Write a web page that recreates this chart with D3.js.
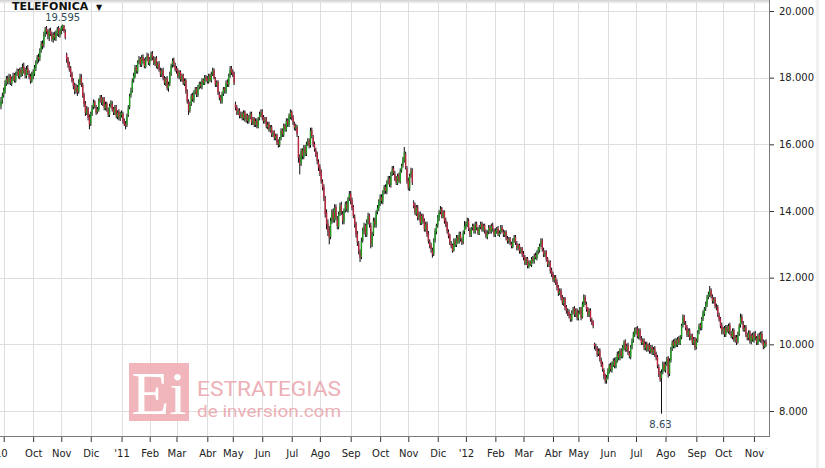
<!DOCTYPE html>
<html><head><meta charset="utf-8">
<script src="https://cdn.jsdelivr.net/npm/d3@7"></script>
<style>
body{margin:0;background:#fff;}
svg{display:block;font-family:"DejaVu Sans",Verdana,sans-serif;}
</style>
</head><body>
<svg id="chart" width="825" height="468"></svg>
<script>
const title = "TELEFONICA";
const monthNames = ["Ene","Feb","Mar","Abr","May","Jun","Jul","Ago","Sep","Oct","Nov","Dic"];
const priceTicks = [8, 10, 12, 14, 16, 18, 20];
const startDate = "2010-08-30", endDate = "2012-11-14";
const holidays = ["2011-04-22","2011-04-25","2011-12-26","2012-04-06","2012-04-09","2012-05-01"];
const maxLabel = "19.595", minLabel = "8.63";

const closes = [
17.30,17.45,
17.62,17.80,17.95,17.88,18.02,17.85,17.96,18.05,17.92,18.10,18.18,18.05,18.22,18.12,18.30,18.20,18.08,18.25,18.15,18.02,17.90,18.10,
18.15,18.30,18.45,18.60,18.55,18.80,19.00,18.95,19.30,19.45,19.38,19.25,19.40,19.30,19.15,19.28,19.20,19.35,19.45,19.30,19.40,
19.50,19.58,19.40,19.20,18.55,18.40,18.25,18.10,17.90,17.75,17.60,17.70,17.55,17.85,18.00,17.80,17.45,17.20,16.95,17.05,16.80,16.60,
16.90,17.10,17.25,17.15,16.95,17.05,17.30,17.40,17.25,17.35,17.10,17.20,17.05,16.90,17.15,17.25,17.05,16.95,17.10,16.85,16.95,16.80,16.90,
16.95,16.70,16.60,16.55,16.85,17.10,17.45,17.60,17.90,18.05,18.30,18.20,18.45,18.55,18.40,18.60,18.50,18.35,18.55,18.65,18.45,
18.55,18.70,18.60,18.45,18.55,18.35,18.40,18.25,18.10,18.20,18.00,17.85,17.95,17.70,17.80,18.10,18.35,18.50,18.40,18.25,
18.20,18.05,18.15,17.95,18.05,17.85,17.90,17.60,17.30,17.00,17.20,17.45,17.35,17.55,17.65,17.50,17.70,17.80,17.75,17.90,17.85,18.00,17.95,
17.90,18.05,17.95,18.10,18.20,18.00,17.80,17.85,17.55,17.40,17.30,17.50,17.65,17.60,17.85,17.80,18.05,18.25,18.15,
18.10,17.85,17.10,16.95,17.00,16.85,16.90,16.80,16.95,16.75,16.85,16.70,16.80,16.90,16.65,16.75,16.60,16.70,16.55,16.75,16.90,16.95,
16.80,16.70,16.75,16.55,16.60,16.45,16.50,16.30,16.35,16.20,16.25,16.05,16.00,16.15,16.40,16.30,16.55,16.45,16.70,16.60,16.85,16.95,
16.80,16.65,16.50,16.55,16.30,15.60,15.40,15.80,15.65,15.90,15.75,16.00,16.10,15.95,16.40,16.25,16.00,15.85,15.70,15.50,15.30,
15.15,14.90,14.70,14.40,13.90,13.60,13.40,13.20,13.70,13.95,13.75,14.10,13.80,13.55,13.90,14.15,13.95,13.70,14.00,14.20,14.05,14.35,14.50,
14.30,14.10,13.85,13.60,13.30,13.05,12.80,12.60,13.10,13.40,13.55,13.30,13.65,13.85,13.60,13.00,13.30,13.70,13.60,13.95,14.10,14.25,
14.40,14.30,14.55,14.70,14.60,14.85,14.95,14.80,15.10,15.25,15.15,14.95,14.85,15.05,14.90,15.20,15.35,15.55,15.75,15.30,14.90,
14.70,15.05,15.20,14.85,14.15,13.95,14.10,13.80,13.90,13.65,13.85,13.70,13.45,13.60,13.30,13.10,12.95,12.85,12.70,13.10,13.40,13.55,
13.80,13.95,14.05,13.85,13.95,13.70,13.60,13.40,13.25,13.05,12.95,12.80,13.10,13.00,13.20,13.10,13.30,13.15,13.05,13.35,13.55,
13.60,13.70,13.45,13.30,13.45,13.55,13.40,13.60,13.50,13.35,13.50,13.60,13.45,13.55,13.40,13.25,13.35,13.50,13.40,13.55,13.45,13.30,
13.40,13.45,13.30,13.35,13.50,13.40,13.30,13.35,13.20,13.10,13.15,13.05,12.95,13.10,13.20,13.05,12.90,12.95,12.80,12.85,12.70,
12.60,12.45,12.55,12.35,12.45,12.40,12.55,12.50,12.65,12.60,12.75,12.85,12.95,13.10,12.85,12.70,12.75,12.55,12.40,12.45,12.20,12.10,
11.95,12.00,11.85,11.70,11.55,11.60,11.40,11.25,11.35,11.10,11.00,10.95,10.85,10.75,10.95,11.05,10.90,11.00,10.80,
10.95,11.05,10.80,11.20,11.40,11.25,11.05,10.90,11.00,10.75,10.65,10.55,9.95,9.90,9.70,9.80,9.55,9.40,9.25,9.05,8.90,9.00,
9.20,9.35,9.25,9.40,9.50,9.35,9.55,9.70,9.60,9.80,9.65,9.90,10.05,9.85,9.95,9.75,9.65,9.90,10.10,10.30,10.40,
10.45,10.25,10.40,10.20,10.05,10.10,9.90,10.00,9.85,9.95,9.80,9.90,9.75,9.85,9.70,9.60,9.35,9.10,8.95,9.15,9.40,9.25,
9.40,9.55,9.10,9.50,9.85,10.05,9.95,10.10,10.00,10.15,10.05,10.20,10.55,10.80,10.65,10.50,10.30,10.40,10.20,10.25,10.05,10.15,9.90,
10.10,10.35,10.55,10.50,10.75,10.95,11.05,11.20,11.40,11.50,11.60,11.45,11.30,11.35,11.15,11.10,10.90,10.75,10.55,10.40,
10.45,10.30,10.50,10.40,10.55,10.35,10.25,10.40,10.15,10.20,10.05,10.30,10.55,10.80,10.65,10.45,10.50,10.30,10.20,10.35,10.10,10.25,10.15,
10.30,10.20,10.05,10.25,10.15,10.30,10.10,9.95,10.05,10.00
];

const opens = [
17.15,17.32,
17.48,17.60,17.82,17.98,17.86,18.05,17.82,17.98,18.08,17.90,18.12,18.20,18.02,18.25,18.10,18.34,18.22,18.05,18.28,18.12,18.05,17.88,
18.05,18.12,18.28,18.48,18.62,18.58,18.82,19.02,18.98,19.32,19.48,19.40,19.22,19.42,19.32,19.12,19.30,19.18,19.33,19.48,19.28,
19.42,19.48,19.56,19.38,18.70,18.58,18.42,18.28,18.12,17.92,17.78,17.58,17.72,17.58,17.82,18.02,17.78,17.48,17.22,16.92,17.08,16.82,
16.62,16.92,17.12,17.28,17.12,16.98,17.02,17.32,17.42,17.22,17.38,17.08,17.22,17.02,16.88,17.18,17.22,17.08,16.92,17.12,16.82,16.98,16.78,
16.88,16.92,16.72,16.62,16.58,16.88,17.12,17.48,17.62,17.92,18.02,18.32,18.18,18.48,18.58,18.38,18.62,18.52,18.32,18.58,18.68,
18.42,18.58,18.72,18.58,18.42,18.58,18.32,18.42,18.22,18.08,18.22,17.98,17.82,17.98,17.68,17.82,18.12,18.38,18.52,18.38,
18.28,18.22,18.02,18.18,17.92,18.08,17.82,17.92,17.58,17.28,17.02,17.22,17.48,17.32,17.58,17.68,17.48,17.72,17.82,17.72,17.92,17.82,18.02,
17.98,17.88,18.08,17.92,18.12,18.22,17.98,17.78,17.88,17.52,17.42,17.28,17.52,17.68,17.58,17.88,17.78,18.08,18.28,
18.18,18.12,17.20,17.12,16.92,17.02,16.82,16.92,16.78,16.98,16.72,16.88,16.68,16.82,16.92,16.62,16.78,16.58,16.72,16.52,16.78,16.88,
16.98,16.82,16.68,16.78,16.52,16.62,16.42,16.52,16.28,16.38,16.18,16.28,16.08,15.98,16.18,16.42,16.28,16.58,16.42,16.72,16.58,16.82,
16.98,16.82,16.62,16.48,16.52,16.20,15.58,15.42,15.82,15.62,15.92,15.72,16.02,16.12,15.98,16.42,16.22,16.02,15.82,15.72,15.48,
15.32,15.18,14.88,14.72,14.38,13.95,13.62,13.42,13.22,13.72,13.98,13.72,14.12,13.78,13.52,13.92,14.18,13.92,13.68,14.02,14.22,14.02,14.38,
14.52,14.32,14.12,13.82,13.62,13.32,13.02,12.78,12.62,13.12,13.38,13.58,13.28,13.68,13.88,13.58,12.98,13.32,13.72,13.58,13.98,14.08,
14.22,14.42,14.28,14.58,14.72,14.58,14.88,14.98,14.78,15.12,15.28,15.12,14.98,14.82,15.08,14.88,15.22,15.38,15.52,15.72,15.28,
14.92,14.68,15.08,15.22,14.25,14.18,13.92,14.12,13.78,13.92,13.62,13.88,13.72,13.42,13.62,13.32,13.08,12.98,12.82,12.72,13.12,13.38,
13.58,13.78,13.98,14.08,13.82,13.98,13.72,13.62,13.38,13.28,13.02,12.98,12.82,13.12,12.98,13.22,13.08,13.32,13.12,13.08,13.38,
13.52,13.58,13.72,13.42,13.28,13.48,13.58,13.38,13.62,13.48,13.32,13.52,13.62,13.42,13.58,13.38,13.22,13.38,13.52,13.38,13.58,13.42,
13.28,13.38,13.48,13.28,13.38,13.52,13.38,13.28,13.38,13.18,13.08,13.18,13.02,12.92,13.12,13.22,13.02,12.88,12.98,12.78,12.88,
12.72,12.62,12.42,12.58,12.32,12.48,12.38,12.58,12.48,12.68,12.58,12.78,12.82,12.98,13.12,12.82,12.68,12.78,12.58,12.38,12.48,12.22,
12.12,11.92,12.02,11.88,11.72,11.52,11.62,11.42,11.22,11.38,11.12,10.98,10.98,10.88,10.72,10.98,11.08,10.88,11.02,
10.78,10.98,11.08,10.82,11.18,11.42,11.22,11.08,10.88,11.02,10.72,10.68,10.02,9.92,9.88,9.72,9.82,9.52,9.42,9.22,9.08,8.92,
9.02,9.18,9.38,9.22,9.38,9.52,9.32,9.52,9.72,9.58,9.82,9.62,9.88,10.08,9.82,9.98,9.72,9.62,9.92,10.12,10.28,
10.38,10.48,10.22,10.42,10.18,10.02,10.12,9.88,10.02,9.82,9.98,9.78,9.92,9.72,9.88,9.72,9.62,9.32,9.12,8.98,9.18,9.42,
9.22,9.42,9.58,9.12,9.52,9.88,10.08,9.92,10.12,9.98,10.18,10.02,10.22,10.58,10.82,10.62,10.52,10.28,10.42,10.18,10.28,10.02,10.18,
9.92,10.12,10.38,10.58,10.48,10.78,10.92,11.08,11.18,11.42,11.48,11.62,11.42,11.28,11.38,11.12,11.12,10.88,10.78,10.58,
10.38,10.48,10.28,10.52,10.38,10.58,10.32,10.22,10.42,10.12,10.22,10.08,10.32,10.58,10.82,10.62,10.42,10.52,10.28,10.18,10.38,10.08,10.28,
10.12,10.32,10.18,10.02,10.28,10.12,10.32,10.08,9.92,10.08
];

const highs = [
17.42,17.55,
17.70,17.92,18.05,18.06,18.12,18.10,18.04,18.15,18.14,18.18,18.28,18.26,18.30,18.32,18.42,18.45,18.30,18.35,18.38,18.22,18.12,18.18,
18.25,18.38,18.52,18.68,18.72,18.88,19.10,19.12,19.38,19.52,19.55,19.45,19.48,19.50,19.38,19.36,19.38,19.42,19.52,19.55,19.48,
19.56,19.595,19.58,19.45,18.75,18.62,18.48,18.35,18.18,17.98,17.85,17.82,17.78,17.95,18.12,18.10,17.85,17.55,17.30,17.15,17.12,16.90,
16.98,17.18,17.35,17.32,17.18,17.12,17.38,17.48,17.48,17.42,17.42,17.28,17.28,17.10,17.22,17.32,17.30,17.12,17.18,17.18,17.02,17.05,16.98,
17.02,16.98,16.78,16.70,16.92,17.18,17.52,17.70,17.98,18.15,18.38,18.38,18.52,18.65,18.62,18.68,18.70,18.58,18.62,18.75,18.72,
18.62,18.78,18.80,18.65,18.62,18.65,18.48,18.50,18.30,18.28,18.30,18.05,18.02,18.05,17.88,18.18,18.42,18.58,18.60,18.45,
18.35,18.28,18.22,18.22,18.12,18.12,17.98,17.98,17.65,17.35,17.28,17.52,17.55,17.62,17.72,17.72,17.78,17.88,17.88,17.98,17.98,18.08,18.08,
18.05,18.12,18.12,18.18,18.30,18.28,18.02,17.92,17.92,17.58,17.48,17.58,17.72,17.72,17.92,17.95,18.12,18.35,18.35,
18.25,18.18,17.28,17.18,17.08,17.08,16.98,16.98,17.02,17.02,16.92,16.92,16.88,16.98,16.98,16.82,16.82,16.78,16.78,16.82,16.98,17.05,
17.05,16.88,16.82,16.82,16.68,16.68,16.58,16.58,16.42,16.42,16.32,16.32,16.15,16.22,16.48,16.48,16.62,16.62,16.78,16.78,16.92,17.05,
17.02,16.88,16.68,16.62,16.58,16.25,15.70,15.88,15.88,15.98,15.98,16.08,16.18,16.18,16.50,16.50,16.28,16.08,15.90,15.78,15.55,
15.40,15.25,14.95,14.80,14.45,14.05,13.75,13.55,13.80,14.05,14.08,14.20,14.20,13.85,13.98,14.25,14.28,14.00,14.08,14.28,14.30,14.42,14.60,
14.60,14.40,14.18,13.90,13.68,13.40,13.10,12.85,13.20,13.50,13.65,13.62,13.75,13.95,13.92,13.65,13.38,13.80,13.80,14.02,14.18,14.35,
14.50,14.50,14.62,14.78,14.80,14.92,15.05,15.05,15.18,15.35,15.35,15.20,15.05,15.12,15.15,15.28,15.42,15.62,15.92,15.78,15.35,
15.00,15.12,15.30,15.28,14.32,14.25,14.18,14.18,13.98,13.98,13.92,13.92,13.78,13.68,13.68,13.40,13.15,13.05,12.90,13.18,13.48,13.62,
13.88,14.02,14.15,14.12,14.02,14.02,13.80,13.68,13.45,13.32,13.10,13.02,13.18,13.18,13.28,13.28,13.38,13.38,13.20,13.42,13.70,
13.68,13.80,13.78,13.50,13.52,13.62,13.62,13.68,13.68,13.52,13.58,13.68,13.68,13.62,13.62,13.45,13.42,13.58,13.58,13.62,13.65,13.48,
13.48,13.52,13.55,13.42,13.58,13.58,13.45,13.42,13.42,13.25,13.22,13.22,13.08,13.18,13.28,13.28,13.10,13.02,13.02,12.92,12.92,
12.80,12.68,12.62,12.62,12.52,12.52,12.62,12.65,12.72,12.75,12.82,12.92,13.02,13.18,13.18,12.90,12.82,12.82,12.62,12.52,12.52,12.30,
12.18,12.08,12.08,11.95,11.78,11.68,11.68,11.48,11.42,11.42,11.18,11.08,11.05,10.92,11.02,11.12,11.15,11.08,11.08,
11.02,11.12,11.12,11.28,11.50,11.48,11.28,11.12,11.08,11.08,10.80,10.72,10.05,10.02,9.95,9.88,9.88,9.60,9.48,9.28,9.12,9.08,
9.28,9.42,9.45,9.48,9.58,9.60,9.62,9.78,9.80,9.88,9.88,9.98,10.12,10.15,10.02,10.05,9.80,9.98,10.18,10.38,10.50,
10.52,10.55,10.48,10.48,10.25,10.18,10.18,10.08,10.08,10.02,10.05,9.98,9.98,9.92,9.95,9.78,9.68,9.40,9.20,9.25,9.48,9.48,
9.48,9.62,9.65,9.58,9.92,10.12,10.15,10.18,10.18,10.22,10.25,10.28,10.62,10.90,10.88,10.70,10.58,10.48,10.48,10.32,10.32,10.22,10.22,
10.18,10.42,10.62,10.65,10.82,11.02,11.12,11.28,11.48,11.58,11.75,11.68,11.50,11.42,11.42,11.22,11.18,10.95,10.82,10.65,
10.52,10.55,10.58,10.58,10.62,10.65,10.40,10.48,10.48,10.28,10.28,10.38,10.62,10.92,10.90,10.70,10.58,10.58,10.35,10.42,10.42,10.32,10.35,
10.38,10.40,10.25,10.32,10.35,10.38,10.40,10.15,10.12,10.15
];

const lows = [
17.05,17.22,
17.40,17.52,17.75,17.80,17.80,17.78,17.75,17.90,17.85,17.85,18.05,17.98,17.95,18.02,18.05,18.12,17.98,17.98,18.08,17.95,17.82,17.85,
17.95,18.05,18.20,18.40,18.45,18.50,18.75,18.85,18.90,19.22,19.30,19.15,19.10,19.25,19.08,19.05,19.12,19.10,19.25,19.22,19.20,
19.30,19.40,19.35,19.15,18.45,18.30,18.18,18.02,17.85,17.65,17.50,17.52,17.45,17.52,17.78,17.72,17.40,17.12,16.85,16.88,16.72,16.45,
16.55,16.85,17.05,17.08,16.88,16.92,16.98,17.25,17.18,17.15,17.02,17.02,16.98,16.82,16.82,17.10,16.98,16.88,16.88,16.78,16.75,16.72,16.70,
16.80,16.62,16.55,16.45,16.52,16.82,17.05,17.40,17.55,17.85,17.98,18.12,18.12,18.40,18.32,18.32,18.42,18.28,18.28,18.50,18.38,
18.35,18.50,18.52,18.38,18.35,18.28,18.25,18.18,18.02,18.02,17.92,17.78,17.75,17.62,17.58,17.75,18.05,18.30,18.32,18.18,
18.12,17.98,17.95,17.88,17.88,17.78,17.75,17.52,17.22,16.88,16.95,17.15,17.28,17.25,17.50,17.42,17.42,17.65,17.68,17.65,17.78,17.78,17.88,
17.82,17.82,17.88,17.85,18.05,17.95,17.72,17.72,17.48,17.32,17.22,17.22,17.45,17.52,17.52,17.72,17.72,18.00,18.08,
18.02,17.78,17.02,16.88,16.88,16.78,16.78,16.72,16.72,16.68,16.65,16.62,16.62,16.75,16.58,16.58,16.52,16.52,16.48,16.48,16.72,16.82,
16.72,16.62,16.62,16.48,16.45,16.38,16.35,16.22,16.22,16.12,16.12,15.98,15.90,15.92,16.12,16.22,16.22,16.38,16.38,16.52,16.52,16.75,
16.72,16.58,16.42,16.40,16.22,15.45,15.10,15.35,15.55,15.55,15.65,15.65,15.95,15.88,15.90,16.18,15.92,15.78,15.62,15.40,15.20,
15.05,14.82,14.62,14.30,13.80,13.45,13.25,13.00,13.15,13.62,13.65,13.65,13.72,13.45,13.45,13.85,13.88,13.60,13.60,13.95,13.98,13.95,14.30,
14.20,14.02,13.78,13.50,13.20,12.95,12.70,12.47,12.55,13.05,13.30,13.22,13.22,13.60,13.50,12.88,12.92,13.25,13.50,13.50,13.90,14.00,
14.15,14.22,14.20,14.50,14.52,14.50,14.80,14.72,14.70,15.05,15.08,14.90,14.78,14.78,14.85,14.82,15.15,15.30,15.45,15.25,14.82,
14.62,14.60,15.00,14.78,14.08,13.88,13.85,13.72,13.72,13.58,13.58,13.62,13.38,13.38,13.22,13.02,12.88,12.75,12.60,12.65,13.05,13.30,
13.50,13.70,13.90,13.78,13.78,13.62,13.52,13.32,13.18,12.98,12.88,12.75,12.78,12.92,12.92,13.02,13.02,13.08,12.98,13.00,13.30,
13.45,13.52,13.40,13.22,13.22,13.42,13.32,13.32,13.42,13.28,13.28,13.45,13.38,13.38,13.32,13.18,13.15,13.30,13.32,13.32,13.38,13.22,
13.22,13.32,13.25,13.22,13.30,13.35,13.22,13.22,13.12,13.02,13.02,12.98,12.88,12.88,13.05,12.98,12.82,12.82,12.72,12.72,12.62,
12.52,12.38,12.38,12.28,12.28,12.35,12.32,12.42,12.42,12.55,12.52,12.70,12.75,12.92,12.78,12.62,12.62,12.48,12.32,12.32,12.12,12.02,
11.88,11.85,11.78,11.62,11.45,11.48,11.32,11.18,11.15,11.02,10.92,10.85,10.78,10.68,10.68,10.90,10.82,10.82,10.72,
10.72,10.90,10.72,10.78,11.12,11.18,10.98,10.82,10.82,10.68,10.58,10.48,9.85,9.80,9.62,9.65,9.48,9.32,9.18,8.95,8.82,8.82,
8.95,9.12,9.18,9.15,9.32,9.28,9.28,9.45,9.52,9.52,9.58,9.58,9.82,9.78,9.78,9.68,9.58,9.55,9.85,10.05,10.22,
10.30,10.18,10.15,10.12,9.98,9.98,9.82,9.82,9.78,9.78,9.72,9.72,9.68,9.68,9.62,9.52,9.28,9.02,8.88,7.92,9.10,9.18,
9.15,9.35,9.00,9.05,9.45,9.80,9.88,9.88,9.92,9.92,9.98,9.98,10.15,10.50,10.58,10.42,10.22,10.22,10.12,10.12,9.98,9.98,9.82,
9.85,10.05,10.30,10.42,10.42,10.70,10.85,11.00,11.12,11.35,11.42,11.38,11.22,11.22,11.08,11.02,10.82,10.68,10.48,10.30,
10.30,10.22,10.22,10.35,10.32,10.28,10.18,10.15,10.08,10.05,9.98,10.02,10.25,10.50,10.60,10.38,10.38,10.22,10.12,10.12,10.02,10.00,10.08,
10.05,10.12,9.98,9.98,10.08,10.05,10.02,9.85,9.88,9.92
];

// ---- trading dates (weekdays, minus exchange holidays) ----
const parse = d3.timeParse("%Y-%m-%d"), fmt = d3.timeFormat("%Y-%m-%d");
const hol = new Set(holidays);
const dates = d3.timeDay.range(parse(startDate), d3.timeDay.offset(parse(endDate), 1))
  .filter(d => d.getDay() !== 0 && d.getDay() !== 6 && !hol.has(fmt(d)));
const N = Math.min(dates.length, opens.length, highs.length, lows.length, closes.length);
const data = d3.range(N).map(i => ({i, date: dates[i], o: opens[i], h: highs[i], l: lows[i], c: closes[i]}));

const W = 825, H = 468, plotR = 769, plotB = 436;
const svg = d3.select("#chart");
const x = d3.scaleLinear().domain([0, N - 1]).range([1, 766]);
const y = d3.scaleLinear().domain([8, 20]).range([411, 11]);

// background elements
svg.append("rect").attr("x", 0).attr("y", 0).attr("width", W).attr("height", H).attr("fill", "#fff");
svg.append("rect").attr("x", 816).attr("y", 0).attr("width", 3).attr("height", H).attr("fill", "#f0f0f0");
const topGrad = svg.append("defs").append("linearGradient").attr("id", "tg").attr("x1", 0).attr("x2", 0).attr("y1", 0).attr("y2", 1);
topGrad.append("stop").attr("offset", 0).attr("stop-color", "#cfcfcf");
topGrad.append("stop").attr("offset", 1).attr("stop-color", "#ffffff");
svg.append("rect").attr("x", 0).attr("y", 0).attr("width", plotR).attr("height", 4).attr("fill", "url(#tg)");

// month ticks
const monthTicks = data.filter((d, k) => k > 0 && d.date.getMonth() !== data[k - 1].date.getMonth());
const tickLabel = (d, k) => {
  const m = d.date.getMonth(), yy = d.date.getFullYear();
  if (k === 0) return String(yy);
  return m === 0 ? "'" + String(yy).slice(2) : monthNames[m];
};

const grid = svg.append("g").attr("stroke", "#dedede").attr("stroke-width", 1).attr("shape-rendering", "crispEdges");
grid.selectAll("line.v").data(monthTicks).join("line").attr("class", "v")
  .attr("x1", d => Math.round(x(d.i)) + 0.5).attr("x2", d => Math.round(x(d.i)) + 0.5)
  .attr("y1", 0).attr("y2", plotB);
grid.selectAll("line.h").data(priceTicks).join("line").attr("class", "h")
  .attr("x1", 0).attr("x2", plotR).attr("y1", d => Math.round(y(d)) + 0.5).attr("y2", d => Math.round(y(d)) + 0.5);

// watermark
const wm = svg.append("g").attr("opacity", 0.85);
wm.append("rect").attr("x", 129).attr("y", 363).attr("width", 60).attr("height", 58).attr("fill", "#eeaab0");
wm.append("text").attr("x", 159).attr("y", 414).attr("text-anchor", "middle")
  .attr("font-family", "'Liberation Serif',serif").attr("font-size", 62).attr("fill", "#fff").text("Ei");
wm.append("text").attr("x", 197).attr("y", 396).attr("font-family", "Roboto,'Open Sans',sans-serif")
  .attr("font-size", 21).attr("fill", "#eaa3ab").attr("textLength", 144).attr("lengthAdjust", "spacingAndGlyphs").text("ESTRATEGIAS");
wm.append("text").attr("x", 197).attr("y", 417).attr("font-family", "Roboto,'Open Sans',sans-serif")
  .attr("font-size", 17).attr("fill", "#eaa3ab").attr("textLength", 144).attr("lengthAdjust", "spacingAndGlyphs").text("de inversion.com");

// candles
const cg = svg.append("g");
cg.selectAll("line.w").data(data).join("line").attr("class", "w")
  .attr("x1", d => x(d.i)).attr("x2", d => x(d.i))
  .attr("y1", d => y(d.h)).attr("y2", d => y(d.l))
  .attr("stroke", "#0d0d0d").attr("stroke-width", 1);
cg.selectAll("rect.b").data(data).join("rect").attr("class", "b")
  .attr("x", d => x(d.i) - 0.7).attr("width", 1.4)
  .attr("y", d => Math.min(y(d.o), y(d.c)))
  .attr("height", d => Math.max(1, Math.abs(y(d.o) - y(d.c))))
  .attr("fill", d => d.c >= d.o ? "#1f9d1f" : "#bd2540");

// axes
const axisG = svg.append("g").attr("shape-rendering", "crispEdges");
axisG.append("line").attr("x1", plotR + 0.5).attr("x2", plotR + 0.5).attr("y1", 0).attr("y2", plotB + 0.5).attr("stroke", "#7a7a7a");
axisG.append("line").attr("x1", 0).attr("x2", plotR + 0.5).attr("y1", plotB + 0.5).attr("y2", plotB + 0.5).attr("stroke", "#7a7a7a");

const yAxis = d3.axisRight(y).tickValues(priceTicks).tickSize(4).tickPadding(5)
  .tickFormat(d => d3.format(".3f")(d));
svg.append("g").attr("transform", `translate(${plotR + 1},0)`).call(yAxis)
  .call(g => g.select(".domain").remove())
  .call(g => g.selectAll(".tick line").attr("stroke", "#333"))
  .call(g => g.selectAll(".tick text").attr("fill", "#222").attr("font-size", 10).attr("font-family", "'DejaVu Sans',Verdana,sans-serif"));

const xAxis = d3.axisBottom(x).tickValues(monthTicks.map(d => d.i)).tickSize(5).tickPadding(8)
  .tickFormat((v, k) => tickLabel(monthTicks[k], k));
svg.append("g").attr("transform", `translate(0,${plotB + 1})`).call(xAxis)
  .call(g => g.select(".domain").remove())
  .call(g => g.selectAll(".tick line").attr("stroke", "#333"))
  .call(g => g.selectAll(".tick text").attr("fill", "#222").attr("font-size", 10).attr("font-family", "'DejaVu Sans',Verdana,sans-serif"))
  .call(g => g.selectAll(".tick text").filter((v, k) => k === 0).attr("text-anchor", "end").attr("dx", "3.5px"));

// extreme labels
const hiD = data.reduce((a, b) => b.h > a.h ? b : a);
const loD = data.reduce((a, b) => b.l < a.l ? b : a);
svg.append("text").attr("x", x(hiD.i)).attr("y", y(hiD.h) - 4).attr("text-anchor", "middle")
  .attr("font-size", 10).attr("fill", "#2f4858").text(maxLabel);
svg.append("text").attr("x", x(loD.i) - 1).attr("y", y(loD.l) + 14).attr("text-anchor", "middle")
  .attr("font-size", 10).attr("fill", "#2f4858").text(minLabel);

// title
const tg = svg.append("g");
tg.append("text").attr("x", 12).attr("y", 10).attr("font-size", 11).attr("font-weight", "bold").attr("fill", "#111").text(title);
tg.append("text").attr("x", 96).attr("y", 10).attr("font-size", 8).attr("fill", "#111").text("▼");
</script>
</body></html>
